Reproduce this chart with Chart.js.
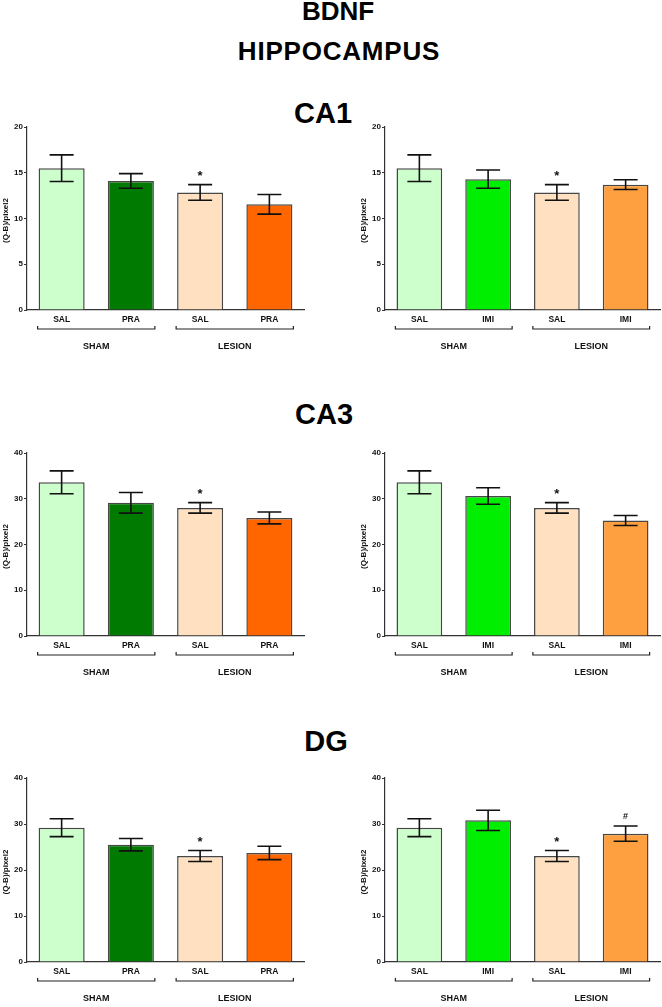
<!DOCTYPE html>
<html><head><meta charset="utf-8">
<script src="https://cdn.jsdelivr.net/npm/chart.js@4.4.1/dist/chart.umd.min.js"></script>
<style>
html,body{margin:0;padding:0;background:#fff;overflow:hidden;width:662px;height:1007px;position:relative;}
.t{position:absolute;font-family:"Liberation Sans",Arial,sans-serif;font-weight:bold;color:#000;white-space:nowrap;transform:translateX(-50%);}
canvas{position:absolute;}
</style></head><body>
<div class="t" style="left:338px;top:-2px;font-size:26px;line-height:26px">BDNF</div>
<div class="t" style="left:339px;top:38px;font-size:26px;line-height:26px;letter-spacing:0.8px">HIPPOCAMPUS</div>
<div class="t" style="left:323px;top:99px;font-size:29px;line-height:29px">CA1</div>
<div class="t" style="left:324px;top:400px;font-size:29px;line-height:29px">CA3</div>
<div class="t" style="left:326px;top:727px;font-size:29px;line-height:29px">DG</div>
<script>
// ---- data ----
const categoriesPra = ['SAL', 'PRA', 'SAL', 'PRA'];
const categoriesImi = ['SAL', 'IMI', 'SAL', 'IMI'];
const groupLabels = ['SHAM', 'LESION'];
const yTitle = '(Q-B)/pixel2';

const ca1PraMean = [15.5, 14.1, 12.85, 11.55];
const ca1PraErr  = [1.45, 0.8, 0.85, 1.07];
const ca1ImiMean = [15.5, 14.3, 12.85, 13.7];
const ca1ImiErr  = [1.45, 1.0, 0.85, 0.53];

const ca3PraMean = [33.6, 29.1, 28.0, 25.8];
const ca3PraErr  = [2.5, 2.25, 1.15, 1.3];
const ca3ImiMean = [33.6, 30.6, 28.0, 25.25];
const ca3ImiErr  = [2.5, 1.8, 1.15, 1.1];

const dgPraMean = [29.2, 25.5, 23.05, 23.7];
const dgPraErr  = [1.95, 1.35, 1.2, 1.45];
const dgImiMean = [29.2, 30.8, 23.05, 27.9];
const dgImiErr  = [1.95, 2.2, 1.2, 1.65];

const marksDefault = ['', '', '*', ''];
const marksDgImi   = ['', '', '*', '#'];

const yMaxCA1 = 20, yStepCA1 = 5;
const yMaxCA3 = 40, yStepCA3 = 10;
const yMaxDG  = 40, yStepDG  = 10;

const colorsPra = ['#ccffcc', '#007a00', '#ffe0c0', '#ff6600'];
const colorsImi = ['#ccffcc', '#00ee00', '#ffe0c0', '#ffa040'];

// ---- drawing ----
const FONT = '"Liberation Sans", Arial, sans-serif';

const annotPlugin = {
  id: 'annot',
  afterDatasetsDraw(chart, args, o) {
    const ctx = chart.ctx, xs = chart.scales.x, ys = chart.scales.y, a = chart.chartArea;
    const data = chart.data.datasets[0].data;
    ctx.save();
    ctx.strokeStyle = '#111';
    ctx.fillStyle = '#111';
    ctx.lineWidth = 1.6;
    ctx.textAlign = 'center';
    ctx.textBaseline = 'middle';
    data.forEach((m, i) => {
      const cx = xs.getPixelForValue(i);
      const yt = ys.getPixelForValue(m + o.err[i]);
      const yb = ys.getPixelForValue(m - o.err[i]);
      ctx.beginPath();
      ctx.moveTo(cx, yt); ctx.lineTo(cx, yb);
      ctx.moveTo(cx - 12, yt); ctx.lineTo(cx + 12, yt);
      ctx.moveTo(cx - 12, yb); ctx.lineTo(cx + 12, yb);
      ctx.stroke();
      const mk = o.marks[i];
      if (mk) {
        if (mk === '*') { ctx.font = 'bold 13px ' + FONT; ctx.fillText(mk, cx, yt - 8); }
        else { ctx.font = 'bold 9px ' + FONT; ctx.fillText(mk, cx, yt - 10); }
      }
    });
    // brackets and group labels
    ctx.lineWidth = 1.2;
    ctx.strokeStyle = '#222';
    const by = a.bottom + 19;
    [[0, 1], [2, 3]].forEach((p, g) => {
      const x0 = xs.getPixelForValue(p[0]) - 24, x1 = xs.getPixelForValue(p[1]) + 24;
      ctx.beginPath();
      ctx.moveTo(x0, by - 3); ctx.lineTo(x0, by); ctx.lineTo(x1, by); ctx.lineTo(x1, by - 3);
      ctx.stroke();
      ctx.font = 'bold 9px ' + FONT;
      ctx.fillStyle = '#111';
      ctx.fillText(o.groups[g], (x0 + x1) / 2, a.bottom + 37);
    });
    // y axis title
    ctx.translate(a.left - 21, (a.top + a.bottom) / 2 + 2);
    ctx.rotate(-Math.PI / 2);
    ctx.font = 'bold 8px ' + FONT;
    ctx.fillText(o.title, 0, 0);
    ctx.restore();
  }
};

function makePanel(left, width, top, plotH, padL, padR, cats, mean, err, marks, colors, yMax, yStep) {
  const c = document.createElement('canvas');
  const h = 10 + plotH + 48;
  c.width = width; c.height = h;
  c.style.left = left + 'px'; c.style.top = (top - 10) + 'px';
  c.style.width = width + 'px'; c.style.height = h + 'px';
  document.body.appendChild(c);
  new Chart(c, {
    type: 'bar',
    data: {
      labels: cats,
      datasets: [{
        data: mean,
        backgroundColor: colors,
        borderColor: '#474747',
        borderWidth: 1.5,
        barPercentage: 0.665,
        categoryPercentage: 1
      }]
    },
    options: {
      responsive: false,
      animation: false,
      devicePixelRatio: 1,
      layout: { padding: { top: 10, left: padL, right: padR, bottom: 0 } },
      plugins: {
        legend: { display: false },
        tooltip: { enabled: false },
        annot: { err: err, marks: marks, groups: groupLabels, title: yTitle }
      },
      scales: {
        x: {
          offset: true,
          grid: { display: false, drawTicks: false },
          border: { display: true, color: '#333', width: 1.2 },
          ticks: { color: '#111', font: { family: FONT, weight: 'bold', size: 8.5 }, padding: 5, maxRotation: 0 },
          afterFit: s => { s.height = 48; }
        },
        y: {
          min: 0, max: yMax,
          ticks: { stepSize: yStep, color: '#111', font: { family: FONT, weight: 'bold', size: 8 }, padding: 1 },
          grid: { drawOnChartArea: false, drawTicks: true, tickLength: 3, color: '#333', lineWidth: 1 },
          border: { display: true, color: '#333', width: 1.2 },
          afterFit: s => { s.width = 27; }
        }
      }
    },
    plugins: [annotPlugin]
  });
}

makePanel(0, 330, 127, 183, 0, 26, categoriesPra, ca1PraMean, ca1PraErr, marksDefault, colorsPra, yMaxCA1, yStepCA1);
makePanel(330, 332, 127, 183, 28, 2, categoriesImi, ca1ImiMean, ca1ImiErr, marksDefault, colorsImi, yMaxCA1, yStepCA1);
makePanel(0, 330, 453, 183, 0, 26, categoriesPra, ca3PraMean, ca3PraErr, marksDefault, colorsPra, yMaxCA3, yStepCA3);
makePanel(330, 332, 453, 183, 28, 2, categoriesImi, ca3ImiMean, ca3ImiErr, marksDefault, colorsImi, yMaxCA3, yStepCA3);
makePanel(0, 330, 778, 184, 0, 26, categoriesPra, dgPraMean, dgPraErr, marksDefault, colorsPra, yMaxDG, yStepDG);
makePanel(330, 332, 778, 184, 28, 2, categoriesImi, dgImiMean, dgImiErr, marksDgImi, colorsImi, yMaxDG, yStepDG);
</script>
</body></html>
